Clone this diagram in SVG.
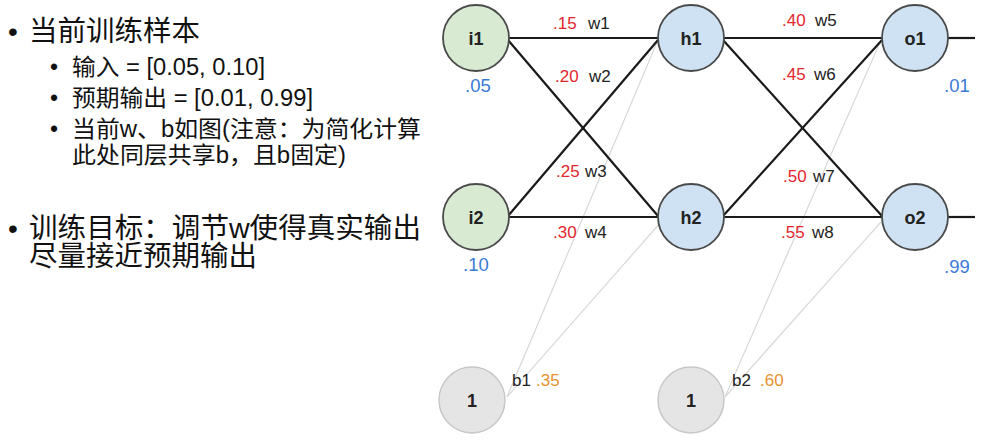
<svg xmlns="http://www.w3.org/2000/svg" width="988" height="446" viewBox="0 0 988 446">
<style>
.t{font-family:"Liberation Sans","Noto Sans CJK SC",sans-serif;fill:#111}
.big{font-size:28px}
.sm{font-size:23px}
.lbl{font-family:"Liberation Sans",Arial,sans-serif;font-size:17px;fill:#222}
.red{fill:#e3262e}
.blue{fill:#3a7bd5;font-size:18.5px}
.org{fill:#e8902e}
.nl{font-family:"Liberation Sans",Arial,sans-serif;font-size:18px;font-weight:bold;fill:#222;text-anchor:middle}
.in{fill:#d9ead3;stroke:#4a4a4a;stroke-width:1.8}
.hid{fill:#cfe2f3;stroke:#4a4a4a;stroke-width:1.8}
.bias{fill:#e5e5e5;stroke:#c8c8c8;stroke-width:1.5}
.w{stroke:#1a1a1a;stroke-width:2.2;fill:none}
.bl{stroke:#d8d8d8;stroke-width:1.2;fill:none}
</style>
<rect width="988" height="446" fill="#fff"/>
<g id="text-left">
<text class="t big" x="8" y="41">•</text>
<text class="t big" x="29" y="41" textLength="171" lengthAdjust="spacingAndGlyphs">当前训练样本</text>
<text class="t sm" x="50" y="75">•</text>
<text class="t sm" x="72" y="75" textLength="193" lengthAdjust="spacingAndGlyphs">输入 = [0.05, 0.10]</text>
<text class="t sm" x="50" y="106">•</text>
<text class="t sm" x="72" y="106" textLength="241" lengthAdjust="spacingAndGlyphs">预期输出 = [0.01, 0.99]</text>
<text class="t sm" x="50" y="137">•</text>
<text class="t sm" x="72" y="137" textLength="349" lengthAdjust="spacingAndGlyphs">当前w、b如图(注意：为简化计算</text>
<text class="t sm" x="72" y="163" textLength="274" lengthAdjust="spacingAndGlyphs">此处同层共享b，且b固定)</text>
<text class="t big" x="8" y="238">•</text>
<text class="t big" x="29" y="238" textLength="392" lengthAdjust="spacingAndGlyphs">训练目标：调节w使得真实输出</text>
<text class="t big" x="29" y="266" textLength="228" lengthAdjust="spacingAndGlyphs">尽量接近预期输出</text>
</g>
<g id="connectors">
<line class="bl" x1="507" y1="397" x2="658" y2="40"/>
<line class="bl" x1="507" y1="397" x2="661" y2="222"/>
<line class="bl" x1="725" y1="397" x2="881" y2="40"/>
<line class="bl" x1="725" y1="397" x2="881" y2="222"/>
<line class="w" x1="509" y1="38" x2="658" y2="38"/>
<line class="w" x1="508" y1="40" x2="658" y2="216"/>
<line class="w" x1="508" y1="216" x2="658" y2="40"/>
<line class="w" x1="509" y1="217" x2="658" y2="217"/>
<line class="w" x1="724" y1="38" x2="882" y2="38"/>
<line class="w" x1="723" y1="40" x2="882" y2="216"/>
<line class="w" x1="723" y1="216" x2="882" y2="40"/>
<line class="w" x1="724" y1="217" x2="882" y2="217"/>
<line class="w" x1="948" y1="38" x2="975" y2="38"/>
<line class="w" x1="948" y1="217" x2="975" y2="217"/>
</g>
<g id="weight-labels">
<text class="lbl" y="29"><tspan class="red" x="553">.15</tspan><tspan x="588">w1</tspan></text>
<text class="lbl" y="82"><tspan class="red" x="555">.20</tspan><tspan x="589">w2</tspan></text>
<text class="lbl" y="177"><tspan class="red" x="556">.25</tspan><tspan x="585">w3</tspan></text>
<text class="lbl" y="238"><tspan class="red" x="553">.30</tspan><tspan x="585">w4</tspan></text>
<text class="lbl" y="26"><tspan class="red" x="782">.40</tspan><tspan x="815">w5</tspan></text>
<text class="lbl" y="80"><tspan class="red" x="782">.45</tspan><tspan x="814">w6</tspan></text>
<text class="lbl" y="182"><tspan class="red" x="783">.50</tspan><tspan x="813">w7</tspan></text>
<text class="lbl" y="238"><tspan class="red" x="781">.55</tspan><tspan x="812">w8</tspan></text>
</g>
<g id="i1"><circle class="in" cx="476" cy="38" r="33"/><text class="nl" x="476" y="45">i1</text><text class="lbl blue" x="465" y="92">.05</text></g>
<g id="i2"><circle class="in" cx="476" cy="217" r="33"/><text class="nl" x="476" y="224">i2</text><text class="lbl blue" x="463" y="271">.10</text></g>
<g id="h1"><circle class="hid" cx="691" cy="38" r="33"/><text class="nl" x="691" y="45">h1</text></g>
<g id="h2"><circle class="hid" cx="691" cy="217" r="33"/><text class="nl" x="691" y="224">h2</text></g>
<g id="o1"><circle class="hid" cx="915" cy="38" r="33"/><text class="nl" x="915" y="45">o1</text><text class="lbl blue" x="944" y="92">.01</text></g>
<g id="o2"><circle class="hid" cx="915" cy="217" r="33"/><text class="nl" x="915" y="224">o2</text><text class="lbl blue" x="944" y="273">.99</text></g>
<g id="b1"><circle class="bias" cx="472" cy="400" r="33"/><text class="nl" x="472" y="407">1</text><text class="lbl" y="386"><tspan x="512">b1</tspan><tspan class="org" x="536">.35</tspan></text></g>
<g id="b2"><circle class="bias" cx="691" cy="400" r="33"/><text class="nl" x="691" y="407">1</text><text class="lbl" y="386"><tspan x="732">b2</tspan><tspan class="org" x="760">.60</tspan></text></g>
</svg>
